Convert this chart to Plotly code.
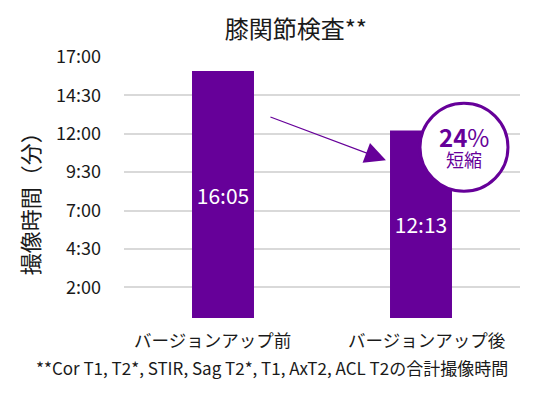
import plotly.graph_objects as go

# ---- data ----
categories = ["バージョンアップ前", "バージョンアップ後"]
durations = ["16:05", "12:13"]          # mm:ss
tick_vals = [2, 4.5, 7, 9.5, 12, 14.5, 17]
tick_text = ["2:00", "4:30", "7:00", "9:30", "12:00", "14:30", "17:00"]
reduction_pct = "24"
reduction_label = "短縮"
title_text = "膝関節検査**"
y_title = "撮像時間（分）"
footnote = "**Cor T1, T2*, STIR, Sag T2*, T1, AxT2, ACL T2の合計撮像時間"

def to_minutes(s):
    m, sec = s.split(":")
    return int(m) + int(sec) / 60

values = [to_minutes(d) for d in durations]

PURPLE = "#660099"
FONT = "Noto Sans CJK JP"
TXT = "#1a1a1a"

fig = go.Figure()
fig.add_trace(go.Bar(
    x=categories, y=values,
    marker=dict(color=PURPLE, line=dict(width=0)),
    width=0.313,
    text=durations, textposition="inside", insidetextanchor="middle",
    textfont=dict(color="white", size=21, family=FONT),
    hoverinfo="skip",
))

fig.update_layout(
    width=544, height=400,
    margin=dict(l=116, r=32, t=48.5, b=90),
    plot_bgcolor="white", paper_bgcolor="white",
    showlegend=False,
    font=dict(family=FONT, color=TXT),
    title=dict(text=title_text, x=0.434, xref="paper", xanchor="center",
               y=1 - 22 / 400, yanchor="middle",
               font=dict(size=24, family=FONT, color=TXT)),
    xaxis=dict(showticklabels=False, showgrid=False, zeroline=False,
               showline=False, range=[-0.5, 1.5]),
    yaxis=dict(range=[0, 17], tickvals=tick_vals, ticktext=tick_text,
               showgrid=True, gridcolor="#d9d9d9", gridwidth=2,
               zeroline=False, showline=False, ticks="",
               ticklabelstandoff=22,
               tickfont=dict(size=18, family=FONT, color=TXT)),
)

# category labels
for i, (cat, shift) in enumerate(zip(categories, [-11, 6])):
    fig.add_annotation(x=i, xref="x", y=-0.084, yref="paper", text=cat,
                       showarrow=False, xshift=shift, yanchor="middle",
                       font=dict(size=17.5, family=FONT, color=TXT))

# y axis title
fig.add_annotation(x=-0.24, xref="paper", y=0.459, yref="paper", text=y_title,
                   textangle=-90, showarrow=False, xanchor="center", yanchor="middle",
                   font=dict(size=22, family=FONT, color=TXT))

# footnote
fig.add_annotation(x=0.374, xref="paper", y=-0.191, yref="paper", text=footnote,
                   showarrow=False, xanchor="center", yanchor="middle",
                   font=dict(size=17, family=FONT, color=TXT))

# arrow
fig.add_annotation(x=0.823, y=10.27, xref="x", yref="y",
                   ax=0.232, ay=13.13, axref="x", ayref="y",
                   showarrow=True, arrowhead=2, arrowsize=3.5, arrowwidth=1.2,
                   arrowcolor=PURPLE, text="")

# circle badge
fig.add_shape(type="circle", xref="x", yref="y", xsizemode="pixel", ysizemode="pixel",
              xanchor=1.217, yanchor=11.12, x0=-44, x1=44, y0=-44, y1=44,
              fillcolor="white", line=dict(color=PURPLE, width=3), layer="above")
fig.add_annotation(x=1.217, y=11.12, xref="x", yref="y", yshift=11,
                   text=f"<b>{reduction_pct}</b>%", showarrow=False,
                   font=dict(size=24, family=FONT, color=PURPLE))
fig.add_annotation(x=1.217, y=11.12, xref="x", yref="y", yshift=-12,
                   text=reduction_label, showarrow=False,
                   font=dict(size=18, family=FONT, color=PURPLE))

fig.write_html("out.html")
